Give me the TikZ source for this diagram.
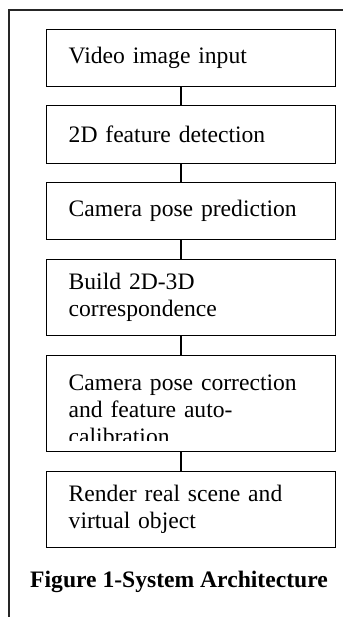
\documentclass[tikz,border=0pt]{standalone}
\usepackage{fontspec}
\setmainfont{Liberation Serif}
\usetikzlibrary{positioning}
\tikzset{
  % one unit = one point, y running downwards
  every picture/.append style = {x=1pt, y=-1pt, line width=1.4pt},
  frameline/.style = {line width=1.2pt, black!85},
  stagebox/.style  = {draw, rectangle, anchor=north west, minimum width=289pt,
                      inner xsep=22pt, inner ysep=0pt, text width=245pt, align=left,
                      font=\fontsize{23.6}{27}\selectfont},
  link/.style      = {line width=1.4pt},
  captionlbl/.style = {font=\fontsize{23.6}{27}\selectfont\bfseries},
}

\begin{document}
\begin{tikzpicture}
  \useasboundingbox (0,0) rectangle (343,617);
  % open frame round the figure
  \draw[frameline] (9,617) -- (9,10) -- (343,10);
  % processing stages
  \node[stagebox, minimum height=57pt] (vidin)    at (46,29)  {Video image input};
  \node[stagebox, minimum height=58pt] (featdet)  at (46,105) {2D feature detection};
  \node[stagebox, minimum height=57pt] (posepred) at (46,182) {Camera pose prediction};
  \node[stagebox, minimum height=76pt] (corresp)  at (46,259) {Build 2D-3D\\correspondence};
  % taller strut pushes the three lines down so the last one runs off
  \node[stagebox, minimum height=96pt] (posecorr) at (46,355)
       {\rule{0pt}{28pt}Camera pose correction\\and feature auto-\\calibration};
  \node[stagebox, minimum height=76pt] (render)   at (46,471) {Render real scene and\\virtual object};
  % last line of the correction box is cut off at the bottom
  \fill[white] ([xshift=1pt,yshift=1pt]posecorr.south west)
          rectangle ([xshift=-1pt,yshift=11.5pt]posecorr.south east);
  % links between the stages, off the box centre
  \coordinate (spine) at (181,0);
  \foreach \a/\b in {vidin/featdet, featdet/posepred, posepred/corresp,
                     corresp/posecorr, posecorr/render}
    \draw[link] (\a.south -| spine) -- (\b.north -| spine);
  \node[captionlbl] (caption) at (179,582) {Figure 1-System Architecture};
\end{tikzpicture}
\end{document}
